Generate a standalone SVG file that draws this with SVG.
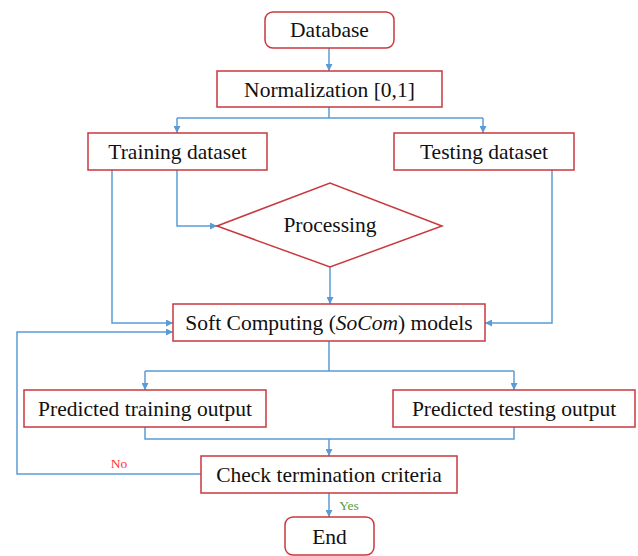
<svg xmlns="http://www.w3.org/2000/svg" width="638" height="556" viewBox="0 0 638 556">
  <style>
    .box { fill: #ffffff; stroke: #c9383f; stroke-width: 1.5; }
    .lbl { font-family: "Liberation Serif", "Times New Roman", serif; font-size: 21.5px; fill: #111111; text-anchor: middle; }
    .wire { fill: none; stroke: #5b9bd5; stroke-width: 1.5; }
    .arr { marker-end: url(#head); }
    .tag { font-family: "Liberation Serif", "Times New Roman", serif; font-size: 13.5px; text-anchor: middle; }
  </style>
  <defs>
    <marker id="head" viewBox="0 0 10 10" refX="10" refY="5" markerWidth="7" markerHeight="7" markerUnits="userSpaceOnUse" orient="auto">
      <path d="M0,0 L10,5 L0,10 z" fill="#5b9bd5"/>
    </marker>
  </defs>
  <rect width="638" height="556" fill="#ffffff"/>

  <g id="connectors">
    <path class="wire arr" d="M329,48 V71"/>
    <path class="wire" d="M329,107 V118 M177,118 H483"/>
    <path class="wire arr" d="M177,118 V133"/>
    <path class="wire arr" d="M483,118 V133"/>
    <path class="wire arr" d="M177,170 V226 H217"/>
    <path class="wire arr" d="M330,267 V304"/>
    <path class="wire arr" d="M112,170 V323 H173"/>
    <path class="wire arr" d="M552,170 V323 H485"/>
    <path class="wire" d="M329,341 V371 M145,371 H514"/>
    <path class="wire arr" d="M145,371 V390"/>
    <path class="wire arr" d="M514,371 V390"/>
    <path class="wire" d="M145,427 V439 H514 V427"/>
    <path class="wire arr" d="M329,439 V456"/>
    <path class="wire arr" d="M201,474 H17 V332 H173"/>
    <path class="wire arr" d="M329,493 V517"/>
    <text class="tag" x="119" y="468" fill="#ff3333">No</text>
    <text class="tag" x="349" y="510" fill="#5a9a3c">Yes</text>
  </g>

  <g id="database">
    <rect class="box" x="265" y="12" width="129" height="36" rx="8"/>
    <text class="lbl" x="329.5" y="37">Database</text>
  </g>
  <g id="normalization">
    <rect class="box" x="217" y="71" width="225" height="36"/>
    <text class="lbl" x="329.5" y="97">Normalization [0,1]</text>
  </g>
  <g id="training">
    <rect class="box" x="88" y="133" width="179" height="37"/>
    <text class="lbl" x="177.5" y="159">Training dataset</text>
  </g>
  <g id="testing">
    <rect class="box" x="394" y="133" width="180" height="37"/>
    <text class="lbl" x="484" y="159">Testing dataset</text>
  </g>
  <g id="processing">
    <polygon class="box" points="217,226 330,183 442,226 330,267"/>
    <text class="lbl" x="330" y="232">Processing</text>
  </g>
  <g id="socom">
    <rect class="box" x="173" y="304" width="312" height="37"/>
    <text class="lbl" x="329" y="330">Soft Computing (<tspan font-style="italic">SoCom</tspan>) models</text>
  </g>
  <g id="pred-training">
    <rect class="box" x="24" y="390" width="242" height="37"/>
    <text class="lbl" x="145" y="416">Predicted training output</text>
  </g>
  <g id="pred-testing">
    <rect class="box" x="393" y="390" width="242" height="37"/>
    <text class="lbl" x="514" y="416">Predicted testing output</text>
  </g>
  <g id="check">
    <rect class="box" x="201" y="456" width="256" height="37"/>
    <text class="lbl" x="329" y="482">Check termination criteria</text>
  </g>
  <g id="end">
    <rect class="box" x="285" y="517" width="89" height="38" rx="8"/>
    <text class="lbl" x="329.5" y="544">End</text>
  </g>
</svg>
